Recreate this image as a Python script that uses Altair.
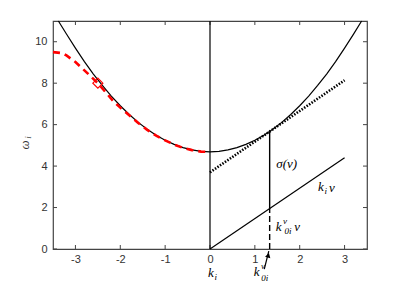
import altair as alt
import pandas as pd

# x ticks / y ticks
x_ticks = [-3, -2, -1, 0, 1, 2, 3]
y_ticks = [0, 2, 4, 6, 8, 10]

# solid dispersion curve
curve_k = [-3.38, -3.2, -3.0, -2.8, -2.6, -2.4, -2.2, -2.0, -1.8, -1.6, -1.4, -1.2, -1.0,
           -0.8, -0.6, -0.4, -0.2, 0.0, 0.2, 0.4, 0.6, 0.8, 1.0, 1.2, 1.4, 1.6, 1.8,
           2.0, 2.2, 2.4, 2.6, 2.8, 3.0, 3.2, 3.38]
curve_w = [11.0, 10.37, 9.69, 9.04, 8.44, 7.89, 7.38, 6.91, 6.49, 6.11, 5.78, 5.49, 5.25,
           5.05, 4.89, 4.78, 4.71, 4.69, 4.71, 4.78, 4.89, 5.05, 5.25, 5.49, 5.78, 6.11, 6.49,
           6.91, 7.38, 7.89, 8.44, 9.04, 9.69, 10.37, 11.0]

# red dashed curve
red_k = [-3.5, -3.3, -3.2, -3.0, -2.8, -2.5, -2.15, -2.0, -1.8, -1.6, -1.4, -1.2, -1.0,
         -0.8, -0.6, -0.4, -0.2, -0.1]
red_w = [9.5, 9.45, 9.34, 9.02, 8.62, 8.0, 7.12, 6.82, 6.45, 6.08, 5.75, 5.47, 5.24,
         5.04, 4.88, 4.77, 4.70, 4.69]

# diamond marker
dia_k = [-2.5]
dia_w = [8.0]

# tangent (dotted) line
tan_k = [0.0, 3.0]
tan_w = [3.70, 8.14]

# k_i v line
kv_k = [0.0, 3.0]
kv_w = [0.0, 4.4]

# k0 vertical
k0 = 1.33
k0_low = 1.95
k0_high = 5.66

# labels: (text, k, w, size)
lab_text = ["σ(v)", "k", "i", "v", "k", "v", "0i", "v", "k", "i", "k", "v", "0i"]
lab_k = [1.71, 2.47, 2.58, 2.72, 1.53, 1.67, 1.74, 1.94, 0.02, 0.13, 1.04, 1.18, 1.22]
lab_w = [4.11, 3.0, 2.80, 2.96, 1.06, 1.36, 0.86, 1.06, -1.16, -1.36, -1.12, -0.82, -1.40]
lab_size = [13, 13, 9, 13, 13, 9, 9, 13, 13, 9, 13, 9, 9]

# arrow
arrow_k = [1.21, 1.31]
arrow_w = [-0.97, -0.10]

W, H = 314, 228
xs = alt.Scale(domain=[-3.5, 3.5], nice=False, zero=False)
ys = alt.Scale(domain=[0, 11], nice=False, zero=False)
ax_x = alt.Axis(values=x_ticks, tickSize=0, domain=False, grid=False, title=None,
                labelFont="Liberation Sans", labelFontSize=11, labelColor="#333",
                labelPadding=4, labelExpr="'' + datum.value")
ax_y = alt.Axis(values=y_ticks, tickSize=0, domain=False, grid=False, title=None,
                labelFont="Liberation Sans", labelFontSize=11, labelColor="#333",
                labelPadding=6, labelExpr="'' + datum.value")

curve_df = pd.DataFrame({"k": curve_k, "w": curve_w})
base = alt.Chart(curve_df).mark_line(color="black", strokeWidth=1.2).encode(
    x=alt.X("k:Q", scale=xs, axis=ax_x),
    y=alt.Y("w:Q", scale=ys, axis=ax_y),
    order="k:Q",
)

red = alt.Chart(pd.DataFrame({"k": red_k, "w": red_w})).mark_line(
    color="#ff0000", strokeWidth=2.6, strokeDash=[7, 5]).encode(
    x=alt.X("k:Q", scale=xs), y=alt.Y("w:Q", scale=ys), order="k:Q")

dia = alt.Chart(pd.DataFrame({"k": dia_k, "w": dia_w})).mark_point(
    shape="diamond", color="#ff0000", filled=False, size=100, strokeWidth=1.2, opacity=1).encode(
    x=alt.X("k:Q", scale=xs), y=alt.Y("w:Q", scale=ys))

tan = alt.Chart(pd.DataFrame({"k": tan_k, "w": tan_w})).mark_line(
    color="black", strokeWidth=2.6, strokeDash=[1.5, 1.5]).encode(
    x=alt.X("k:Q", scale=xs), y=alt.Y("w:Q", scale=ys))

kv = alt.Chart(pd.DataFrame({"k": kv_k, "w": kv_w})).mark_line(
    color="black", strokeWidth=1.2).encode(
    x=alt.X("k:Q", scale=xs), y=alt.Y("w:Q", scale=ys))

vline0 = alt.Chart(pd.DataFrame({"k": [0.0], "w": [0.0], "w2": [11.0]})).mark_rule(
    color="black", strokeWidth=1.2).encode(
    x=alt.X("k:Q", scale=xs), y=alt.Y("w:Q", scale=ys), y2="w2:Q")

vk0 = alt.Chart(pd.DataFrame({"k": [k0], "w": [k0_low], "w2": [k0_high]})).mark_rule(
    color="black", strokeWidth=1.4).encode(
    x=alt.X("k:Q", scale=xs), y=alt.Y("w:Q", scale=ys), y2="w2:Q")

vk0d = alt.Chart(pd.DataFrame({"k": [k0], "w": [0.0], "w2": [k0_low]})).mark_rule(
    color="black", strokeWidth=1.4, strokeDash=[6, 3]).encode(
    x=alt.X("k:Q", scale=xs), y=alt.Y("w:Q", scale=ys), y2="w2:Q")

arrow_df = pd.DataFrame({"k": [arrow_k[0]], "w": [arrow_w[0]],
                         "k2": [arrow_k[1]], "w2": [arrow_w[1]]})
arrow_line = alt.Chart(arrow_df).mark_rule(color="black", strokeWidth=1.2).encode(
    x=alt.X("k:Q", scale=xs), y=alt.Y("w:Q", scale=ys), x2="k2:Q", y2="w2:Q")
arrow_head = alt.Chart(pd.DataFrame({"k": [arrow_k[1] - 0.01], "w": [arrow_w[1] - 0.2]})).mark_point(
    shape="triangle-up", filled=True, color="black", size=30, angle=15, opacity=1).encode(
    x=alt.X("k:Q", scale=xs), y=alt.Y("w:Q", scale=ys))

lab_df = pd.DataFrame({"t": lab_text, "k": lab_k, "w": lab_w, "s": lab_size})
labels = alt.Chart(lab_df).mark_text(font="Liberation Serif", fontStyle="italic",
                                     color="black", baseline="middle", align="center").encode(
    x=alt.X("k:Q", scale=xs), y=alt.Y("w:Q", scale=ys), text="t:N",
    size=alt.Size("s:Q", scale=None))

ylab_df = pd.DataFrame({"t": ["ω", "i"], "k": [-4.12, -4.05], "w": [5.02, 5.38], "s": [13, 9]})
ylab = alt.Chart(ylab_df).mark_text(font="Liberation Serif", fontStyle="italic", angle=270,
                                    color="#333", baseline="middle", align="center").encode(
    x=alt.X("k:Q", scale=xs), y=alt.Y("w:Q", scale=ys), text="t:N",
    size=alt.Size("s:Q", scale=None))

tick_col = "#444"
xt_df = pd.DataFrame({"k": x_ticks})
yt_df = pd.DataFrame({"w": y_ticks})
xt_bot = alt.Chart(xt_df).mark_rule(color=tick_col, strokeWidth=1).encode(
    x=alt.X("k:Q", scale=xs), y=alt.value(H), y2=alt.value(H - 4))
xt_top = alt.Chart(xt_df).mark_rule(color=tick_col, strokeWidth=1).encode(
    x=alt.X("k:Q", scale=xs), y=alt.value(0), y2=alt.value(4))
yt_left = alt.Chart(yt_df).mark_rule(color=tick_col, strokeWidth=1).encode(
    y=alt.Y("w:Q", scale=ys), x=alt.value(0), x2=alt.value(4))
yt_right = alt.Chart(yt_df).mark_rule(color=tick_col, strokeWidth=1).encode(
    y=alt.Y("w:Q", scale=ys), x=alt.value(W), x2=alt.value(W - 4))

chart = alt.layer(base, xt_bot, xt_top, yt_left, yt_right, red, dia, tan, kv, vline0,
                  vk0, vk0d, arrow_line, arrow_head, labels, ylab).properties(
    width=W, height=H,
    autosize=alt.AutoSizeParams(type="none"),
    padding={"left": 45, "top": 13, "right": 30, "bottom": 35},
).configure_view(stroke="#444", strokeWidth=1.2).configure_axis(labelFlush=False)

chart.save("out.html", embed_options={"renderer": "svg", "actions": False})
